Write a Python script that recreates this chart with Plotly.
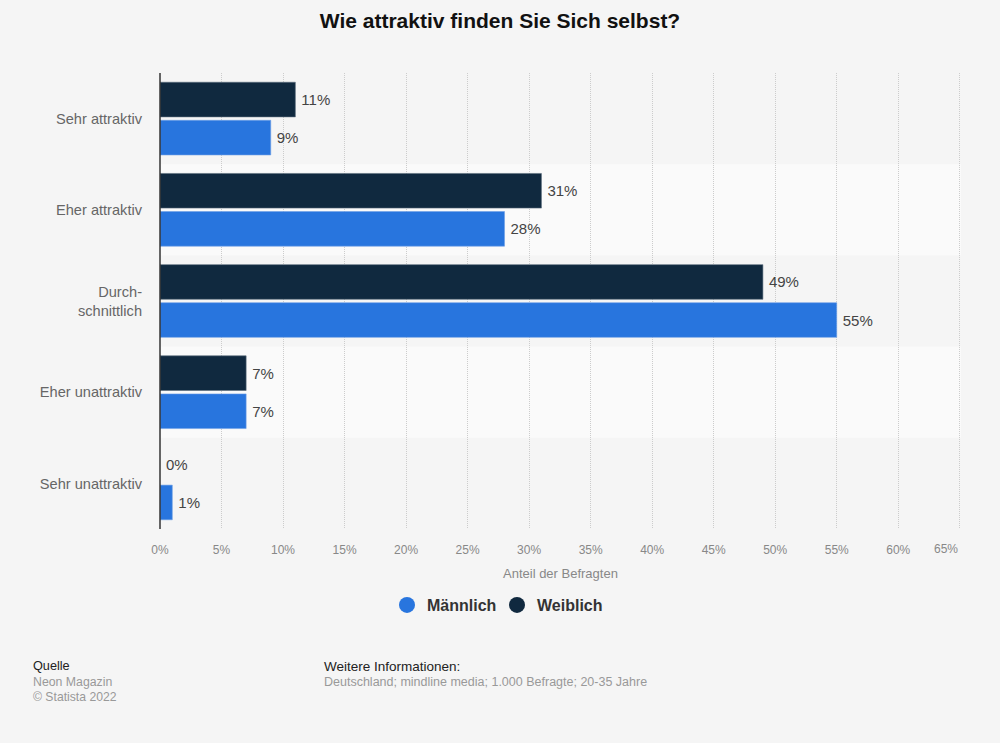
import plotly.graph_objects as go

categories = ["Sehr attraktiv", "Eher attraktiv", "Durch-<br>schnittlich", "Eher unattraktiv", "Sehr unattraktiv"]
weiblich = [11, 31, 49, 7, 0]
maennlich = [9, 28, 55, 7, 1]
x_ticks = list(range(0, 70, 5))
x_labels = [f"{t}%" for t in x_ticks[:-1]] + [""]

NAVY = "#10293f"
BLUE = "#2875de"
FONT = "Liberation Sans"

# plot area in window pixels
LEFT, RIGHT, TOP, BOTTOM = 160, 961, 73, 529


def px(x):
    return (x - LEFT) / (RIGHT - LEFT)


def py(y):
    return (BOTTOM - y) / (BOTTOM - TOP)


fig = go.Figure()
for name, values, color, line in [("Weiblich", weiblich, NAVY, "#5b6b7c"), ("Männlich", maennlich, BLUE, "#6f9fe6")]:
    fig.add_trace(go.Bar(
        y=categories, x=values, name=name, orientation="h", showlegend=False,
        marker=dict(color=color, line=dict(color=line, width=[0.6 if v > 0 else 0 for v in values])),
        text=[f"\u2009{v}%" for v in values], textposition="outside", cliponaxis=False,
        textfont=dict(family=FONT, size=15, color="#444444"),
    ))

# round legend markers, the bars themselves would give squares
for name, color in [("Männlich", BLUE), ("Weiblich", NAVY)]:
    fig.add_trace(go.Scatter(x=[None], y=[None], mode="markers", name=name,
                             marker=dict(color=color, size=16, symbol="circle")))


def note(x, y, text, color, size=12.0):
    fig.add_annotation(xref="paper", yref="paper", x=px(x - 2), y=py(y), text=text, showarrow=False,
                       xanchor="left", yanchor="middle", align="left",
                       font=dict(family=FONT, size=size, color=color))


note(33, 666, "Quelle", "#222222", 12.7)
note(33, 682, "Neon Magazin", "#999999", 12.3)
note(33, 697, "© Statista 2022", "#999999", 12.2)
note(324, 666, "Weitere Informationen:", "#222222", 13.5)
note(324, 682, "Deutschland; mindline media; 1.000 Befragte; 20-35 Jahre", "#999999", 12.5)
note(934, 549, "65%", "#888888")

fig.add_annotation(xref="paper", yref="paper", x=px(560), y=py(573), text="Anteil der Befragten",
                   showarrow=False, xanchor="center", yanchor="middle",
                   font=dict(family=FONT, size=13, color="#888888"))

for y0, y1 in [(0.6, 0.8), (0.2, 0.4)]:
    fig.add_shape(type="rect", xref="x domain", yref="y domain", x0=0, x1=1, y0=y0, y1=y1,
                  fillcolor="#fafafa", line_width=0, layer="below")

# axis line as a shape so it sits centred on zero
fig.add_shape(type="line", xref="x domain", yref="y domain", x0=0, x1=0, y0=0, y1=1,
              line=dict(color="#333333", width=1.5), layer="above")

fig.update_xaxes(range=[0, 65.1], tickvals=x_ticks, ticktext=x_labels, showgrid=True, griddash="1px,1px",
                 gridcolor="#cccccc", gridwidth=1, zeroline=False, showline=False, ticks="",
                 tickfont=dict(family=FONT, size=12, color="#888888"), ticklabelstandoff=12)
fig.update_yaxes(autorange="reversed", showgrid=False, zeroline=False, showline=False, ticks="",
                 ticklabelstandoff=17, tickfont=dict(family=FONT, size=14.6, color="#666666"))

fig.update_layout(
    width=1000, height=743,
    margin=dict(l=LEFT, r=1000 - RIGHT, t=TOP, b=743 - BOTTOM, autoexpand=False),
    paper_bgcolor="#f5f5f5", plot_bgcolor="#f5f5f5",
    barmode="group", bargap=0.165, bargroupgap=0.09,
    title=dict(text="<b>Wie attraktiv finden Sie Sich selbst?</b>", x=0.5, xanchor="center", y=0.972, yanchor="middle",
               font=dict(family=FONT, size=21, color="#111111")),
    legend=dict(orientation="h", x=0.497, xref="container", xanchor="center", y=py(605), yanchor="middle",
                traceorder="normal", font=dict(family=FONT, size=16, color="#333333", weight="bold"),
                itemsizing="trace", entrywidth=65, entrywidthmode="pixels", bgcolor="rgba(0,0,0,0)"),
)

fig.write_html("out.html", config={"displayModeBar": False}, post_script="document.body.style.margin='0';")
